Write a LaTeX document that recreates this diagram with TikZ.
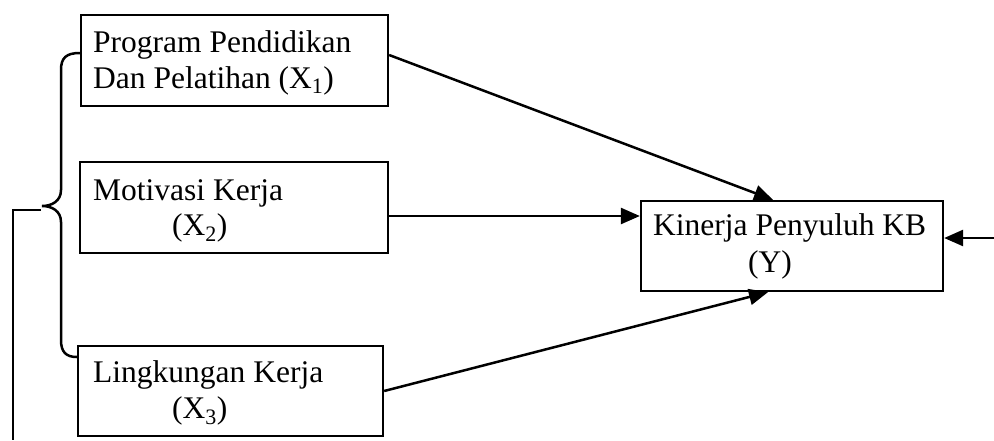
\documentclass[tikz,border=0pt]{standalone}
\usepackage{fontspec}
\setmainfont{Liberation Serif}
\usetikzlibrary{arrows.meta}
\begin{document}
\begin{tikzpicture}[x=1pt,y=-1pt,
  box/.style={draw,line width=2.3pt,inner sep=0pt},
  lbl/.style={anchor=base west,inner sep=0pt,font=\fontsize{31.5}{37}\selectfont},
  link/.style={line width=2.5pt,-{Triangle[length=19pt,width=16pt]}},
  wire/.style={line width=2.5pt}]
\useasboundingbox (0,0) rectangle (994,440);
\node[box,minimum width=307pt,minimum height=91pt] (b1) at (234.5,60.5) {};
\node[box,minimum width=308pt,minimum height=91pt] (b2) at (234,207.5) {};
\node[box,minimum width=305pt,minimum height=90pt] (b3) at (230.5,391) {};
\node[box,minimum width=302pt,minimum height=90pt] (y) at (792,246) {};
\node[lbl] (t1a) at (93,52) {Program Pendidikan};
\node[lbl] (t1b) at (93,88) {Dan Pelatihan (X\textsubscript{1})};
\node[lbl] (t2a) at (93,200) {Motivasi Kerja};
\node[lbl] (t2b) at (172,235) {(X\textsubscript{2})};
\node[lbl] (t3a) at (93,382) {Lingkungan Kerja};
\node[lbl] (t3b) at (172,418) {(X\textsubscript{3})};
\node[lbl] (tya) at (653,235) {Kinerja Penyuluh KB};
\node[lbl] (tyb) at (748,272) {(Y)};
\draw[link] ([yshift=5.5pt]b1.east) -- ([xshift=-19pt]y.north);
\draw[link] ([yshift=-8.5pt]b2.east) -- ([yshift=30pt]y.west);
\draw[link] (b3.east) -- ([xshift=-24pt]y.south);
\coordinate (rin) at (994,238);
\draw[link] (rin) -- (y.east |- rin);
\coordinate (tip) at (42,206);
\coordinate (foot) at (13,440);
\draw[wire] ([yshift=7.5pt]b1.west) .. controls (66,53) and (61,58) .. (61,70) -- (61,190)
  .. controls (61,201) and (52,206) .. (tip) .. controls (52,206) and (61,211) .. (61,222)
  -- (61,340) .. controls (61,352) and (66,357) .. ([yshift=34pt]b3.west);
\draw[wire] (41,210) -- (13,210) -- (foot);
\end{tikzpicture}
\end{document}
